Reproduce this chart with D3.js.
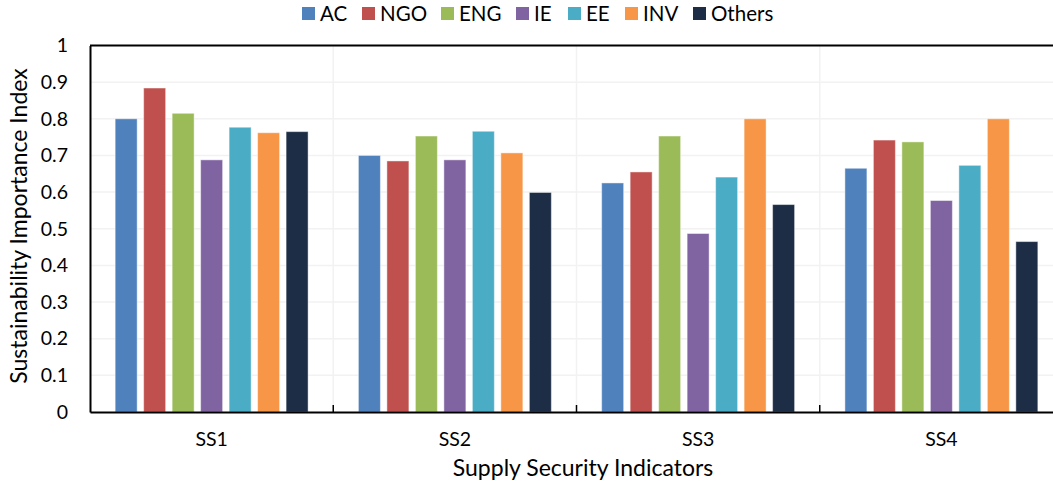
<!DOCTYPE html>
<html>
<head>
<meta charset="utf-8">
<script src="https://cdn.jsdelivr.net/npm/d3@7"></script>
<style>
  html, body { margin: 0; padding: 0; background: #fff; }
  svg { display: block; }
  text { font-family: Lato, "Open Sans", sans-serif; fill: #000; }
</style>
</head>
<body>
<svg id="chart" width="1053" height="486"></svg>
<script>
// Supply security indicators and stakeholder groups
const categories = ["SS1", "SS2", "SS3", "SS4"];
const groups = ["AC", "NGO", "ENG", "IE", "EE", "INV", "Others"];

// Sustainability importance index, one array per stakeholder group (SS1..SS4)
const AC     = [0.80, 0.70, 0.625, 0.665];
const NGO    = [0.884, 0.685, 0.655, 0.742];
const ENG    = [0.815, 0.753, 0.753, 0.737];
const IE     = [0.688, 0.688, 0.487, 0.577];
const EE     = [0.777, 0.766, 0.641, 0.673];
const INV    = [0.762, 0.707, 0.80, 0.80];
const Others = [0.765, 0.599, 0.566, 0.465];

const yTicks = [0, 0.1, 0.2, 0.3, 0.4, 0.5, 0.6, 0.7, 0.8, 0.9, 1];
const colors = ["#4F81BD", "#C0504D", "#9BBB59", "#8064A2", "#4BACC6", "#F79646", "#1C2D45"];

const seriesValues = [AC, NGO, ENG, IE, EE, INV, Others];
const rows = categories.map((c, i) => ({
  category: c,
  values: groups.map((g, j) => ({ group: g, value: seriesValues[j][i] }))
}));

const svg = d3.select("#chart");
const plotLeft = 90, plotTop = 45.5, plotBottom = 412, plotRight = 1063;

const x0 = d3.scaleBand().domain(categories).range([plotLeft, plotRight]).paddingInner(0).paddingOuter(0);
const x1 = d3.scaleBand().domain(groups).range([0, x0.bandwidth()]).paddingInner(0.228).paddingOuter(0.883);
const y = d3.scaleLinear().domain([0, 1]).range([plotBottom, plotTop]);
const color = d3.scaleOrdinal().domain(groups).range(colors);

// horizontal gridlines
svg.append("g")
  .selectAll("line")
  .data(yTicks.filter(t => t > 0 && t < 1))
  .join("line")
  .attr("x1", plotLeft).attr("x2", plotRight)
  .attr("y1", d => y(d)).attr("y2", d => y(d))
  .attr("stroke", "#f2f2f2").attr("stroke-width", 1.5);

// vertical separators between categories
const bounds = categories.slice(1).map(c => x0(c));
svg.append("g")
  .selectAll("line")
  .data(bounds)
  .join("line")
  .attr("x1", d => d).attr("x2", d => d)
  .attr("y1", plotTop).attr("y2", plotBottom)
  .attr("stroke", "#f2f2f2").attr("stroke-width", 1.5);

// bars
svg.append("g")
  .selectAll("g")
  .data(rows)
  .join("g")
  .attr("transform", d => `translate(${x0(d.category)},0)`)
  .selectAll("rect")
  .data(d => d.values)
  .join("rect")
  .attr("x", d => x1(d.group))
  .attr("width", x1.bandwidth())
  .attr("y", d => y(d.value))
  .attr("height", d => y(0) - y(d.value))
  .attr("fill", d => color(d.group))
  .attr("stroke", "rgba(255,255,255,0.45)")
  .attr("stroke-width", 1);

// frame: top border, left axis, bottom axis
svg.append("line").attr("x1", plotLeft).attr("x2", plotRight).attr("y1", plotTop).attr("y2", plotTop)
  .attr("stroke", "#000").attr("stroke-width", 2);

const yAxis = d3.axisLeft(y).tickValues(yTicks).tickSize(0).tickPadding(22)
  .tickFormat(d => d3.format("")(+d.toFixed(1)));
svg.append("g").attr("transform", `translate(${plotLeft},0)`).call(yAxis)
  .call(g => g.select(".domain").attr("stroke", "#000").attr("stroke-width", 2))
  .call(g => g.selectAll("text").style("font-size", "19.5px").attr("fill", "#000")
    .style("font-family", "Lato, 'Open Sans', sans-serif"));

const xAxis = d3.axisBottom(x0).tickSize(0).tickPadding(20);
svg.append("g").attr("transform", `translate(0,${plotBottom})`).call(xAxis)
  .call(g => g.select(".domain").attr("stroke", "#000").attr("stroke-width", 2))
  .call(g => g.selectAll("text").style("font-size", "19.5px").attr("fill", "#000")
    .style("font-family", "Lato, 'Open Sans', sans-serif"));

// small inward tick marks at category boundaries
svg.append("g")
  .selectAll("line")
  .data(bounds)
  .join("line")
  .attr("x1", d => d).attr("x2", d => d)
  .attr("y1", plotBottom - 7).attr("y2", plotBottom)
  .attr("stroke", "#000").attr("stroke-width", 1.5);

// axis titles
svg.append("text")
  .attr("x", 583).attr("y", 476)
  .attr("text-anchor", "middle")
  .style("font-size", "23px")
  .text("Supply Security Indicators");

svg.append("text")
  .attr("transform", "translate(27,226) rotate(-90)")
  .attr("text-anchor", "middle")
  .style("font-size", "23px")
  .text("Sustainability Importance Index");

// legend
const legendX = [302, 362, 441, 516, 568, 625, 693];
const legend = svg.append("g")
  .selectAll("g")
  .data(groups)
  .join("g")
  .attr("transform", (d, i) => `translate(${legendX[i]},7)`);
legend.append("rect").attr("width", 13).attr("height", 13).attr("fill", d => color(d));
legend.append("text").attr("x", 18).attr("y", 14)
  .style("font-size", "20.5px")
  .text(d => d);
</script>
</body>
</html>
